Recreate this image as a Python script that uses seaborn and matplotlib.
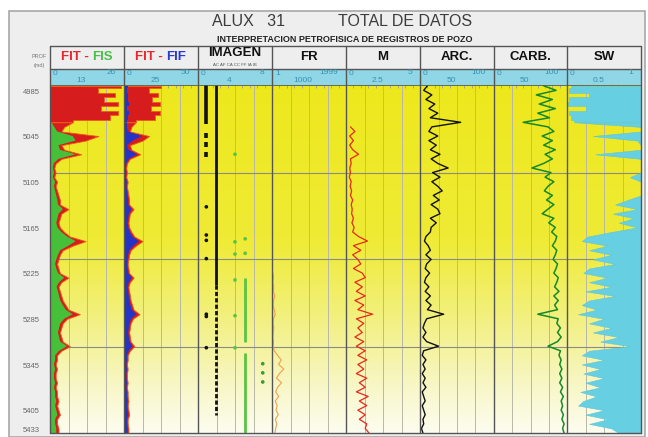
import numpy as np
import seaborn as sns
import matplotlib.pyplot as plt
from matplotlib.colors import LinearSegmentedColormap
from matplotlib.patches import Rectangle

sns.set_style('white')
plt.rcParams['font.family'] = ['Liberation Sans', 'DejaVu Sans']

W, H = 648, 437
nan = np.nan

# depth samples (md)
DEPTH = [4978, 4984, 4990, 4996, 5002, 5008, 5014, 5020, 5026, 5032, 5038,
         5044, 5050, 5056, 5062, 5068, 5074, 5080, 5086, 5092, 5098, 5104,
         5110, 5116, 5122, 5128, 5134, 5140, 5146, 5152, 5158, 5164, 5170,
         5176, 5182, 5188, 5194, 5200, 5206, 5212, 5218, 5224, 5230, 5236,
         5242, 5248, 5254, 5260, 5266, 5272, 5278, 5284, 5290, 5296, 5302,
         5308, 5314, 5320, 5326, 5332, 5338, 5344, 5350, 5356, 5362, 5368,
         5374, 5380, 5386, 5392, 5398, 5404, 5410, 5416, 5422, 5428, 5434]

FIT = [25, 17, 23, 19, 24, 18, 24, 21,
       8, 5, 4, 17, 12.5, 4, 5, 11,
       4, 2, 1.5, 2, 1.5, 2.5, 2, 2.5,
       3, 3.5, 3.5, 6.5, 4, 3.5, 3, 3.5,
       5, 7, 12.5, 8, 4.5, 3.5, 3, 2.5,
       3, 3.5, 6.5, 4, 3, 3.5, 4, 4.5,
       5.5, 6.5, 10.5, 6, 4.5, 4, 3.5, 4,
       4.5, 7, 4, 2.5, 2.5, 2, 2.5, 2,
       2, 2.5, 2, 2.5, 2.5, 3, 2.5, 3,
       3.5, 2.5, 2.5, 3, 3]

FIS = [0.3, 0.3, 0.4, 0.3, 0.3, 0.4, 0.3, 0.3,
       0.5, 1.5, 2.5, 8, 9, 3, 3.5, 9,
       3, 1.3, 1, 1.4, 1, 1.8, 1.4, 1.8,
       2.2, 2.6, 2.8, 4.5, 3, 2.6, 2.2, 2.6,
       4, 6, 9, 6.5, 3.6, 2.8, 2.2, 1.8,
       2.2, 2.8, 5, 3.2, 2.3, 2.8, 3.2, 3.6,
       4.5, 5.5, 8, 5, 3.6, 3.2, 2.8, 3.2,
       3.6, 6, 3.2, 1.8, 1.8, 1.4, 1.8, 1.4,
       1.4, 1.8, 1.4, 1.8, 1.8, 2.2, 1.8, 2.2,
       2.6, 1.8, 1.8, 2.2, 2.2]

FIF = [3, 2, 3, 2.5, 3.5, 2, 3.5, 2.5,
       2, 2, 2.5, 12, 6, 2, 3, 9,
       3.2, 1.6, 1.2, 1.6, 1.2, 2, 1.6, 2,
       2.4, 2.8, 2.8, 5, 3.2, 2.8, 2.4, 2.8,
       4, 5.6, 10, 6.4, 3.6, 2.8, 2.4, 2,
       2.4, 2.8, 5.2, 3.2, 2.4, 2.8, 3.2, 3.6,
       4.4, 5.2, 8.4, 4.8, 3.6, 3.2, 2.8, 3.2,
       3.6, 5.6, 3.2, 2, 2, 1.6, 2, 1.6,
       1.6, 2, 1.6, 2, 2, 2.4, 2, 2.4,
       2.8, 2, 2, 2.4, 2.4]

FR = [nan] * 41 + [30, 40, 25, 50, 35, 80, 40, 30, 60, 90, 40, 30, 50, 35,
                   25, 40, 30, 60, 150, 250, 180, 320, 200, 120, 260, 150,
                   100, 180, 90, 140, 110, 170, 90, 130, 100, 80]

M = [nan] * 9 + [0.3, 0.6, 0.25, 0.5, 0.25, 0.45, 0.85, 0.3,
                 0.35, 0.25, 0.3, 0.22, 0.35, 0.28, 0.38, 0.3,
                 0.45, 0.35, 0.42, 0.38, 0.5, 0.4, 0.55, 0.45,
                 0.85, 1.45, 0.5, 1.0, 0.45, 0.8, 1.0, 0.5,
                 1.1, 1.3, 0.6, 1.1, 0.7, 1.3, 0.6, 1.2,
                 0.8, 1.8, 0.7, 1.2, 0.8, 1.1, 0.6, 1.2,
                 0.7, 1.3, 0.8, 1.4, 0.8, 1.2, 0.7, 1.4,
                 0.9, 1.3, 0.7, 1.5, 0.9, 1.4, 0.8, 1.3,
                 0.9, 1.4, 1.3, 1.55]

ARC = [10, 5, 16, 8, 20, 12, 24, 14,
       55, 16, 12, 24, 12, 22, 14, 27,
       15, 24, 38, 17, 27, 16, 24, 30,
       18, 26, 15, 24, 27, 14, 22, 15,
       14, 8, 6, 11, 14, 8, 15, 9,
       7, 13, 8, 6, 12, 7, 14, 8,
       15, 10, 32, 9, 6, 4, 8, 4,
       9, 25, 5, 3, 8, 4, 7, 3,
       7, 4, 8, 3, 5, 7, 3, 5,
       7, 4, 5, 2, 4]

CARB = [68, 85, 58, 80, 62, 84, 60, 76,
        40, 74, 82, 66, 80, 68, 84, 70,
        80, 68, 52, 78, 70, 82, 74, 69,
        80, 72, 82, 74, 66, 82, 75, 84,
        79, 86, 84, 80, 86, 84, 81, 87,
        85, 82, 88, 86, 83, 89, 82, 88,
        83, 87, 60, 88, 86, 91, 87, 92,
        87, 74, 91, 89, 92, 90, 93, 90,
        93, 90, 94, 91, 95, 92, 94, 92,
        95, 93, 96, 94, 96]

SW = [0.05, 0.03, 0.3, 0.03, 0.02, 0.25, 0.03, 0.05,
      0.1, 1.0, 1.0, 0.35, 0.95, 1.0, 1.0, 0.38,
      1.0, 1.0, 1.0, 1.0, 0.85, 1.0, 1.0, 1.0,
      1.0, 0.82, 0.65, 0.95, 0.62, 0.9, 0.7, 0.95,
      0.6, 0.28, 0.2, 0.55, 0.3, 0.6, 0.35, 0.65,
      0.3, 0.22, 0.55, 0.3, 0.6, 0.25, 0.65, 0.3,
      0.2, 0.4, 0.15, 0.5, 0.3, 0.6, 0.35, 0.7,
      0.45, 0.85, 0.3, 0.2, 0.5, 0.2, 0.45, 0.22,
      0.5, 0.25, 0.45, 0.18, 0.4, 0.22, 0.15, 0.5,
      0.25, 0.55, 0.3, 0.6, 0.7]

# image facies: class -> scale value in the IMAGEN track
IMG_CLASS_POS = {'AC': 0.9, 'AF': 1.9, 'CC': 4.0, 'FF': 5.1, 'IB': 7.0}
IMG_RUNS = [('AC', 4977, 5028), ('AC', 5040, 5047), ('AC', 5052, 5059),
            ('AC', 5065, 5072), ('AF', 4977, 5240), ('FF', 5231, 5314),
            ('FF', 5329, 5434)]
IMG_DOTTED = [('AF', 5240, 5410)]
IMG_DOTS = [('AC', 5137), ('AC', 5174), ('AC', 5181), ('AC', 5205),
            ('AC', 5278), ('AC', 5281), ('AC', 5322),
            ('CC', 5068), ('CC', 5183), ('CC', 5199), ('CC', 5233),
            ('CC', 5280), ('CC', 5322), ('FF', 5179), ('FF', 5198),
            ('IB', 5343), ('IB', 5355), ('IB', 5367)]

TRACKS = ['FIT - FIS', 'FIT - FIF', 'IMAGEN', 'FR', 'M', 'ARC.', 'CARB.', 'SW']
SCALES = [(0, 26), (0, 50), (0, 8), (1, 1999), (0, 5), (0, 100), (0, 100), (0, 1)]
SCALE_LABELS = [('0', '13', '26'), ('0', '25', '50'), ('0', '4', '8'),
                ('1', '1000', '1999'), ('0', '2.5', '5'), ('0', '50', '100'),
                ('0', '50', '100'), ('0', '0.5', '1')]
DEPTH_TICKS = [4985, 5045, 5105, 5165, 5225, 5285, 5345, 5405, 5429]
DEPTH_TICK_LABELS = ['4985', '5045', '5105', '5165', '5225', '5285', '5345', '5405', '5433']
MARK_DEPTHS = [5092, 5206, 5321]
BANDED = 9  # the first samples are drawn as flat bands

X_EDGES = [50, 124, 198, 272, 346, 420, 494, 567, 641]
Y_HEAD, Y_SCALE, Y_TOP, Y_BOT = 46, 69, 85, 433
D_TOP, D_BOT = 4977, 5434

RED, GREEN, BLUE = '#d61c1c', '#46c038', '#2434c4'
CYAN = '#66cfe2'

fig = plt.figure(figsize=(W / 100, H / 100), dpi=100)


def px_axes(x0, y0, x1, y1):
    return fig.add_axes([x0 / W, 1 - y1 / H, (x1 - x0) / W, (y1 - y0) / H])


def log_fill(ax, a, b, **kw):
    # banded top interval, continuous below
    a_top = a[:BANDED] if isinstance(a, list) else a
    b_top = b[:BANDED] if isinstance(b, list) else b
    a_low = a[BANDED - 1:] if isinstance(a, list) else a
    b_low = b[BANDED - 1:] if isinstance(b, list) else b
    ax.fill_betweenx(DEPTH[:BANDED], a_top, b_top, step='mid', **kw)
    ax.fill_betweenx(DEPTH[BANDED - 1:], a_low, b_low, **kw)


# frame background
bg = fig.add_axes([0, 0, 1, 1])
bg.set_zorder(0)
bg.set_xlim(0, W)
bg.set_ylim(H, 0)
bg.axis('off')
bg.add_patch(Rectangle((9, 11), 636, 426, facecolor='#eeeeee', edgecolor='#a8a8a8', lw=1.2))
bg.add_patch(Rectangle((50, Y_SCALE), 591, Y_TOP - Y_SCALE, facecolor='#8fd6e6', edgecolor='none'))

# yellow gradient behind the tracks
grad_ax = px_axes(50, Y_TOP, 641, Y_BOT)
grad_ax.set_zorder(1)
cmap = LinearSegmentedColormap.from_list(
    'ylw', [(0, '#ede81c'), (0.45, '#efeb36'), (0.7, '#f3f18a'), (0.87, '#f8f7c8'), (1, '#fdfdf0')])
grad_ax.imshow(np.linspace(0, 1, 256).reshape(-1, 1), aspect='auto', cmap=cmap, extent=(0, 1, 1, 0))
grad_ax.axis('off')

axes = []
for i, (lo, hi) in enumerate(SCALES):
    ax = px_axes(X_EDGES[i], Y_TOP, X_EDGES[i + 1], Y_BOT)
    ax.set_zorder(2)
    ax.patch.set_alpha(0)
    ax.set_xlim(lo, hi)
    ax.set_ylim(D_BOT, D_TOP)
    for s in ax.spines.values():
        s.set_visible(False)
    for q in (1, 2, 3):
        ax.axvline(lo + q * (hi - lo) / 4, color='#b8b8a8', lw=0.7, zorder=1)
    for d in MARK_DEPTHS:
        ax.axhline(d, color='#8c8c82', lw=0.8, zorder=1)
    ax.set_xticks(np.linspace(lo, hi, 11))
    ax.tick_params(axis='x', top=True, bottom=False, direction='in', length=2.5,
                   width=0.6, color='#a0a090', labeltop=False, labelbottom=False)
    ax.set_yticks(DEPTH_TICKS)
    ax.tick_params(axis='y', left=False, right=False, labelleft=(i == 0))
    axes.append(ax)

axes[0].set_yticklabels(DEPTH_TICK_LABELS)
axes[0].tick_params(axis='y', pad=4, labelsize=5.5, labelcolor='#666666')

# FIT - FIS
log_fill(axes[0], 0, FIT, facecolor=RED, edgecolor='#ee5a1a', lw=0.6, zorder=2)
log_fill(axes[0], 0, FIS, facecolor=GREEN, edgecolor='none', lw=0, zorder=4)

# FIT - FIF
log_fill(axes[1], 0, FIT, facecolor=RED, edgecolor='#ee5a1a', lw=0.6, zorder=2)
log_fill(axes[1], 0, FIF, facecolor=BLUE, edgecolor='none', lw=0, zorder=4)

# IMAGEN
ax = axes[2]
img_color = {'AC': '#111111', 'AF': '#111111', 'CC': '#58c444', 'FF': '#58c444', 'IB': '#3a9a3a'}
for cls, d0, d1 in IMG_RUNS:
    ax.vlines(IMG_CLASS_POS[cls], d0, d1, color=img_color[cls],
              lw=2.6 if cls == 'AC' else 2.0, zorder=3)
for cls, d0, d1 in IMG_DOTTED:
    ax.vlines(IMG_CLASS_POS[cls], d0, d1, color=img_color[cls], lw=2.0,
              linestyles=(0, (1.5, 0.8)), zorder=3)
dot_x = [IMG_CLASS_POS[c] for c, d in IMG_DOTS]
dot_y = [d for c, d in IMG_DOTS]
dot_c = [img_color[c] for c, d in IMG_DOTS]
sns.scatterplot(x=dot_x, y=dot_y, ax=ax, c=dot_c, s=7, linewidth=0, zorder=3)

# FR, M, ARC, CARB curves
curve_style = [(3, FR, '#f0a050', 0.8), (4, M, '#e8281c', 0.9),
               (5, ARC, '#111111', 1.0), (6, CARB, '#148a28', 1.1)]
for idx, vals, col, lw in curve_style:
    sns.lineplot(x=vals, y=DEPTH, orient='y', sort=False, estimator=None,
                 ax=axes[idx], color=col, lw=lw, zorder=3)

# SW
log_fill(axes[7], SW, 1, facecolor=CYAN, edgecolor='#5cc6dc', lw=0.4, zorder=2)

for ax in axes:
    ax.set_ylim(D_BOT, D_TOP)
    ax.set_xlabel('')
    ax.set_ylabel('')

# overlay: borders and text
ov = fig.add_axes([0, 0, 1, 1])
ov.set_zorder(5)
ov.patch.set_alpha(0)
ov.set_xlim(0, W)
ov.set_ylim(H, 0)
ov.axis('off')
for x in X_EDGES:
    ov.plot([x, x], [Y_HEAD, Y_BOT], color='#555555', lw=1.0)
for y in (Y_HEAD, Y_SCALE, Y_TOP, Y_BOT):
    ov.plot([X_EDGES[0], X_EDGES[-1]], [y, y], color='#555555', lw=1.0 if y != Y_TOP else 0.6)

ov.text(212, 21, 'ALUX   31', fontsize=11.5, color='#3c3c3c', ha='left', va='center')
ov.text(338, 21, 'TOTAL DE DATOS', fontsize=11.5, color='#3c3c3c', ha='left', va='center')
ov.text(345, 39, 'INTERPRETACION PETROFISICA DE REGISTROS DE POZO', fontsize=6.5,
        fontweight='bold', color='#222222', ha='center', va='center')

ov.text(39, 57, 'PROF', fontsize=4, color='#777777', ha='center', va='center')
ov.text(39, 66, '(md)', fontsize=4, color='#777777', ha='center', va='center')

hfs = 9.5
ov.text(89, 57, 'FIT -', fontsize=hfs, fontweight='bold', color='#e8262e', ha='right', va='center')
ov.text(92.5, 57, 'FIS', fontsize=hfs, fontweight='bold', color='#48c048', ha='left', va='center')
ov.text(163, 57, 'FIT -', fontsize=hfs, fontweight='bold', color='#e8262e', ha='right', va='center')
ov.text(166.5, 57, 'FIF', fontsize=hfs, fontweight='bold', color='#2a3ad0', ha='left', va='center')
ov.text(235, 53, 'IMAGEN', fontsize=hfs, fontweight='bold', color='#111111', ha='center', va='center')
ov.text(235, 65.5, 'AC AF CA CC FF IA IB', fontsize=3.2, color='#555555', ha='center', va='center')
for i in range(3, 8):
    cx = (X_EDGES[i] + X_EDGES[i + 1]) / 2
    ov.text(cx, 57, TRACKS[i], fontsize=hfs, fontweight='bold', color='#111111', ha='center', va='center')

for i, (l, m, r) in enumerate(SCALE_LABELS):
    x0, x1 = X_EDGES[i], X_EDGES[i + 1]
    kw = dict(fontsize=6, color='#3a90ae', va='center')
    ov.text(x0 + 3, 73.5, l, ha='left', **kw)
    ov.text(x0 + 0.42 * (x1 - x0), 80, m, ha='center', **kw)
    ov.text(x1 - 8, 73, r, ha='right', **kw)

fig.savefig('out.png', dpi=100)
